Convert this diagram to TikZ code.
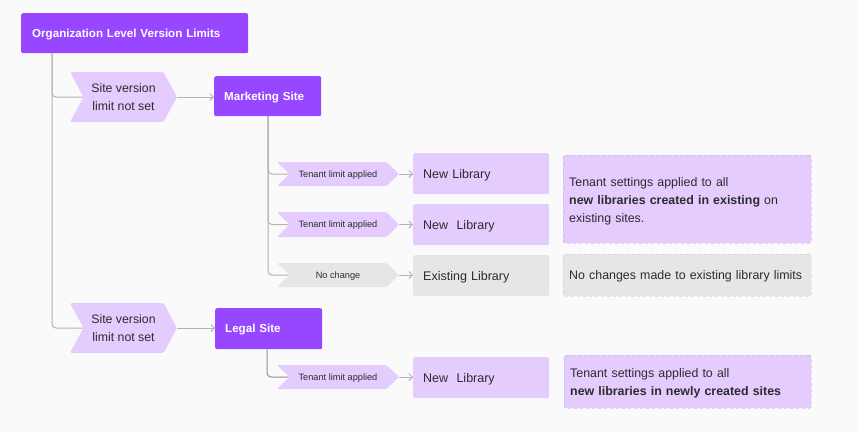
\documentclass[tikz,border=0pt]{standalone}
\usepackage{fontspec}
\setmainfont{Liberation Sans}
\usetikzlibrary{arrows.meta}
\definecolor{vpurple}{HTML}{9747FF}
\definecolor{lpurple}{HTML}{E4CCFF}
\definecolor{lgray}{HTML}{E6E6E6}
\definecolor{bgc}{HTML}{FAFAFA}
\definecolor{lnc}{HTML}{B3B3B3}
\definecolor{txt}{HTML}{2C2C2C}
\definecolor{pdash}{HTML}{B89CE0}
\definecolor{gdash}{HTML}{BDBDBD}
\pgfdeclarelayer{bgl}
\pgfdeclarelayer{back}
\pgfsetlayers{bgl,back,main}
\tikzset{
  chevtext/.style={inner sep=0pt, align=center, text=txt},
  bigchev/.style={font=\fontsize{12.3}{18}\selectfont, text height=26.8pt, text depth=0pt},
  smallchev/.style={font=\fontsize{9.2}{11}\selectfont, text height=6.6pt, text depth=0pt},
  sitebox/.style={fill=vpurple, rounded corners=2pt, anchor=north west, text=white, align=left, inner ysep=0pt,
     font=\fontsize{11.6}{14}\selectfont\bfseries, text height=8.4pt, text depth=0pt},
  libbox/.style={fill=lpurple, rounded corners=2pt, anchor=north west, text=txt, align=left, inner ysep=0pt,
     inner xsep=10pt, text width=116pt, minimum height=41pt, font=\fontsize{12.5}{15}\selectfont,
     text height=9pt, text depth=0pt},
  notebox/.style={fill=lpurple, draw=pdash, dashed, rounded corners=2pt, anchor=north west, text=txt, align=left,
     inner ysep=0pt, inner xsep=6pt, text width=236pt, font=\fontsize{12.4}{18.3}\selectfont, text height=8.9pt},
  conn/.style={draw=lnc, line width=1pt, rounded corners=4pt},
  arr/.style={draw=lnc, line width=1pt, -{Straight Barb[length=3.5pt,width=7pt]}},
}
% name, xl, xt, yt, yb, depth, fill, text style, text
\newcommand\mychev[9]{%
  \fill[#7, rounded corners=1.5pt] (#2,#4) -- ({#3-#6},#4) -- (#3,{(#4+#5)/2}) -- ({#3-#6},#5) -- (#2,#5) -- ({#2+#6},{(#4+#5)/2}) -- cycle;
  \coordinate (#1-w) at ({#2+#6},{(#4+#5)/2});
  \coordinate (#1-e) at (#3,{(#4+#5)/2});
  \node[chevtext, #8] (#1) at ({(#2+#3)/2},{(#4+#5)/2}) {#9};
}
\begin{document}
\begin{tikzpicture}[x=1pt,y=-1pt]
\begin{pgfonlayer}{bgl}
\fill[bgc] (0,0) rectangle (859,432);
\end{pgfonlayer}
\useasboundingbox (0,0) rectangle (859,432);

% top box
\node[sitebox, inner xsep=11pt, text width=205pt, minimum height=40pt] (org) at (21,13) {Organization Level Version Limits};

% first-level chevrons
\mychev{ch1}{70}{177}{72}{122}{13.5}{lpurple}{bigchev}{Site version\\limit not set}
\mychev{ch2}{70}{177}{303}{353}{13.5}{lpurple}{bigchev}{Site version\\limit not set}

% sites
\node[sitebox, inner xsep=10pt, text width=87pt, minimum height=40pt] (mkt) at (214,76) {Marketing Site};
\node[sitebox, inner xsep=10pt, text width=87pt, minimum height=41pt] (legal) at (215,308) {Legal Site};

% second-level chevrons
\mychev{t1}{277}{399}{162}{186}{12.5}{lpurple}{smallchev}{Tenant limit applied}
\mychev{t2}{277}{399}{212}{237}{12.5}{lpurple}{smallchev}{Tenant limit applied}
\mychev{t3}{277}{399}{263}{287}{12.5}{lgray}{smallchev}{No change}
\mychev{t4}{277}{399}{365}{389}{12.5}{lpurple}{smallchev}{Tenant limit applied}

% libraries
\node[libbox] (lib1) at (413,153) {New Library};
\node[libbox] (lib2) at (413,204) {New\ \ Library};
\node[libbox, fill=lgray] (lib3) at (413,255) {Existing Library};
\node[libbox] (lib4) at (413,357) {New\ \ Library};

% notes
\node[notebox, minimum height=88pt, text height=10.9pt, text depth=36.6pt] (note1) at (563,155) {Tenant settings applied to all\\\textbf{new libraries created in existing} on\\existing sites.};
\node[notebox, fill=lgray, draw=gdash, minimum height=42pt, text depth=0pt] (note2) at (563,254) {No changes made to existing library limits};
\node[notebox, minimum height=53pt, text width=235pt, text depth=18.3pt] (note3) at (564,355) {Tenant settings applied to all\\\textbf{new libraries in newly created sites}};

% connectors
\begin{pgfonlayer}{back}
\draw[conn] ([xshift=31pt]org.south west) |- (ch1-w);
\draw[conn] ([xshift=31pt]org.south west) |- (ch2-w);
\draw[conn] ([xshift=54pt]mkt.south west) |- (t1-w);
\draw[conn] ([xshift=54pt]mkt.south west) |- (t2-w);
\draw[conn] ([xshift=54pt]mkt.south west) |- (t3-w);
\draw[conn, draw=lnc!80!black] ([xshift=52pt]legal.south west) |- (t4-w);
\end{pgfonlayer}
\draw[arr] (ch1-e) -- (mkt.west |- ch1-e);
\draw[arr] (ch2-e) -- (legal.west |- ch2-e);
\draw[arr] (t1-e) -- (lib1.west |- t1-e);
\draw[arr] (t2-e) -- (lib2.west |- t2-e);
\draw[arr] (t3-e) -- (lib3.west |- t3-e);
\draw[arr] (t4-e) -- (lib4.west |- t4-e);
\end{tikzpicture}
\end{document}
